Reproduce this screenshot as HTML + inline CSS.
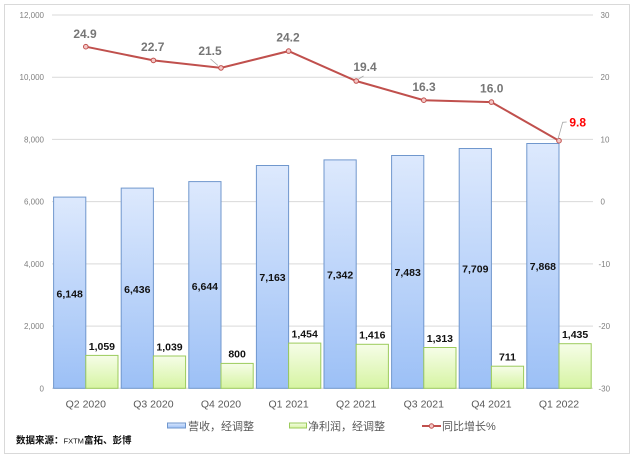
<!DOCTYPE html>
<html><head><meta charset="utf-8"><style>
html,body{margin:0;padding:0;background:#fff;}
svg{display:block;}
text{font-family:"Liberation Sans","Noto Sans CJK SC",sans-serif;}
</style></head><body>
<svg width="635" height="462" viewBox="0 0 635 462" xmlns="http://www.w3.org/2000/svg">
<defs>
<linearGradient id="gb" x1="0" y1="0" x2="0" y2="1"><stop offset="0" stop-color="#dde9fd"/><stop offset="1" stop-color="#9cc0f6"/></linearGradient>
<linearGradient id="gg" x1="0" y1="0" x2="0" y2="1"><stop offset="0" stop-color="#f6fde8"/><stop offset="1" stop-color="#d6f4a2"/></linearGradient>
</defs>
<rect x="4.5" y="4.5" width="625" height="449" fill="#fff" stroke="#d9d9d9" stroke-width="1"/>
<g stroke="#d9d9d9" stroke-width="1">
<line x1="52" y1="15" x2="593" y2="15"/>
<line x1="52" y1="77.2" x2="593" y2="77.2"/>
<line x1="52" y1="139.4" x2="593" y2="139.4"/>
<line x1="52" y1="201.6" x2="593" y2="201.6"/>
<line x1="52" y1="263.9" x2="593" y2="263.9"/>
<line x1="52" y1="326.1" x2="593" y2="326.1"/>
<line x1="52" y1="388.3" x2="593" y2="388.3"/>
</g>
<g font-size="8" fill="#808080" text-anchor="end">
<text x="44" y="18">12,000</text>
<text x="44" y="80.2">10,000</text>
<text x="44" y="142.4">8,000</text>
<text x="44" y="204.6">6,000</text>
<text x="44" y="266.9">4,000</text>
<text x="44" y="329.1">2,000</text>
<text x="44" y="391.3">0</text>
</g>
<g font-size="8" fill="#808080">
<text x="600.5" y="18">30</text>
<text x="600.5" y="80.2">20</text>
<text x="600.5" y="142.4">10</text>
<text x="600.5" y="204.6">0</text>
<text x="598.5" y="266.9">-10</text>
<text x="598.5" y="329.1">-20</text>
<text x="598.5" y="391.3">-30</text>
</g>
<!-- bars -->
<g stroke-width="1">
<rect x="53.6" y="197.1" width="32.2" height="191.2" fill="url(#gb)" stroke="#7097cd"/>
<rect x="85.8" y="355.4" width="32.2" height="32.9" fill="url(#gg)" stroke="#9ccb5c"/>
<rect x="121.2" y="188.1" width="32.2" height="200.2" fill="url(#gb)" stroke="#7097cd"/>
<rect x="153.4" y="356.0" width="32.2" height="32.3" fill="url(#gg)" stroke="#9ccb5c"/>
<rect x="188.8" y="181.6" width="32.2" height="206.7" fill="url(#gb)" stroke="#7097cd"/>
<rect x="221.0" y="363.4" width="32.2" height="24.9" fill="url(#gg)" stroke="#9ccb5c"/>
<rect x="256.4" y="165.5" width="32.2" height="222.8" fill="url(#gb)" stroke="#7097cd"/>
<rect x="288.6" y="343.1" width="32.2" height="45.2" fill="url(#gg)" stroke="#9ccb5c"/>
<rect x="324.0" y="159.9" width="32.2" height="228.4" fill="url(#gb)" stroke="#7097cd"/>
<rect x="356.2" y="344.3" width="32.2" height="44.0" fill="url(#gg)" stroke="#9ccb5c"/>
<rect x="391.6" y="155.5" width="32.2" height="232.8" fill="url(#gb)" stroke="#7097cd"/>
<rect x="423.8" y="347.5" width="32.2" height="40.8" fill="url(#gg)" stroke="#9ccb5c"/>
<rect x="459.2" y="148.5" width="32.2" height="239.8" fill="url(#gb)" stroke="#7097cd"/>
<rect x="491.4" y="366.2" width="32.2" height="22.1" fill="url(#gg)" stroke="#9ccb5c"/>
<rect x="526.8" y="143.5" width="32.2" height="244.8" fill="url(#gb)" stroke="#7097cd"/>
<rect x="559.0" y="343.7" width="32.2" height="44.6" fill="url(#gg)" stroke="#9ccb5c"/>
</g>
<!-- bar labels -->
<g font-size="10.5" font-weight="bold" fill="#111" text-anchor="middle">
<text x="69.7" y="297.7">6,148</text>
<text x="101.9" y="349.8">1,059</text>
<text x="137.3" y="293.2">6,436</text>
<text x="169.5" y="350.4">1,039</text>
<text x="204.9" y="290.0">6,644</text>
<text x="237.1" y="357.6">800</text>
<text x="272.5" y="281.2">7,163</text>
<text x="304.7" y="337.4">1,454</text>
<text x="340.1" y="278.4">7,342</text>
<text x="372.3" y="338.6">1,416</text>
<text x="407.7" y="276.2">7,483</text>
<text x="439.9" y="341.8">1,313</text>
<text x="475.3" y="272.7">7,709</text>
<text x="507.5" y="360.4">711</text>
<text x="542.9" y="270.2">7,868</text>
<text x="575.1" y="338.0">1,435</text>
</g>
<!-- line -->
<polyline points="85.8,46.7 153.4,60.4 221,67.9 288.6,51.1 356.2,81.0 423.8,100.2 491.4,102.1 559,140.7" fill="none" stroke="#c0504d" stroke-width="2"/>
<g fill="#f4c7c6" stroke="#c0504d" stroke-width="1">
<circle cx="85.8" cy="46.7" r="2.3"/>
<circle cx="153.4" cy="60.4" r="2.3"/>
<circle cx="221" cy="67.9" r="2.3"/>
<circle cx="288.6" cy="51.1" r="2.3"/>
<circle cx="356.2" cy="81.0" r="2.3"/>
<circle cx="423.8" cy="100.2" r="2.3"/>
<circle cx="491.4" cy="102.1" r="2.3"/>
<circle cx="559" cy="140.7" r="2.3"/>
</g>
<!-- leaders -->
<g stroke="#a6a6a6" stroke-width="0.8" fill="none">
<line x1="210.5" y1="59" x2="218" y2="65.5"/>
<line x1="358.5" y1="79" x2="363.5" y2="76"/>
<polyline points="558,139 562.7,122.3 566.7,122"/>
</g>
<g font-size="12" font-weight="bold" fill="#767676" text-anchor="middle">
<text x="85" y="38">24.9</text>
<text x="152.7" y="51">22.7</text>
<text x="210" y="55">21.5</text>
<text x="288" y="41.3">24.2</text>
<text x="365" y="71">19.4</text>
<text x="424" y="91">16.3</text>
<text x="491.7" y="92.6">16.0</text>
<text x="577.7" y="126.6" fill="#ff0000">9.8</text>
</g>
<!-- x labels -->
<g font-size="10.5" fill="#595959" text-anchor="middle">
<text x="85.8" y="407.3">Q2 2020</text>
<text x="153.4" y="407.3">Q3 2020</text>
<text x="221" y="407.3">Q4 2020</text>
<text x="288.6" y="407.3">Q1 2021</text>
<text x="356.2" y="407.3">Q2 2021</text>
<text x="423.8" y="407.3">Q3 2021</text>
<text x="491.4" y="407.3">Q4 2021</text>
<text x="559" y="407.3">Q1 2022</text>
</g>
<!-- legend -->
<rect x="167.5" y="423" width="18" height="5" fill="url(#gb)" stroke="#7097cd" stroke-width="1"/>
<text x="188" y="430" font-size="11" fill="#595959">营收，经调整</text>
<rect x="289.5" y="423" width="17" height="5" fill="url(#gg)" stroke="#9ccb5c" stroke-width="1"/>
<text x="308" y="430" font-size="11" fill="#595959">净利润，经调整</text>
<line x1="422" y1="426" x2="441" y2="426" stroke="#c0504d" stroke-width="2"/>
<circle cx="431.5" cy="426" r="2.2" fill="#f4c7c6" stroke="#c0504d" stroke-width="1"/>
<text x="442" y="430" font-size="11" fill="#595959">同比增长%</text>
<!-- source -->
<text x="16" y="443.5" font-size="9.5" font-weight="bold" fill="#111">数据来源：<tspan font-size="7.5" font-weight="normal">FXTM</tspan>富拓、彭博</text>
</svg>
</body></html>
